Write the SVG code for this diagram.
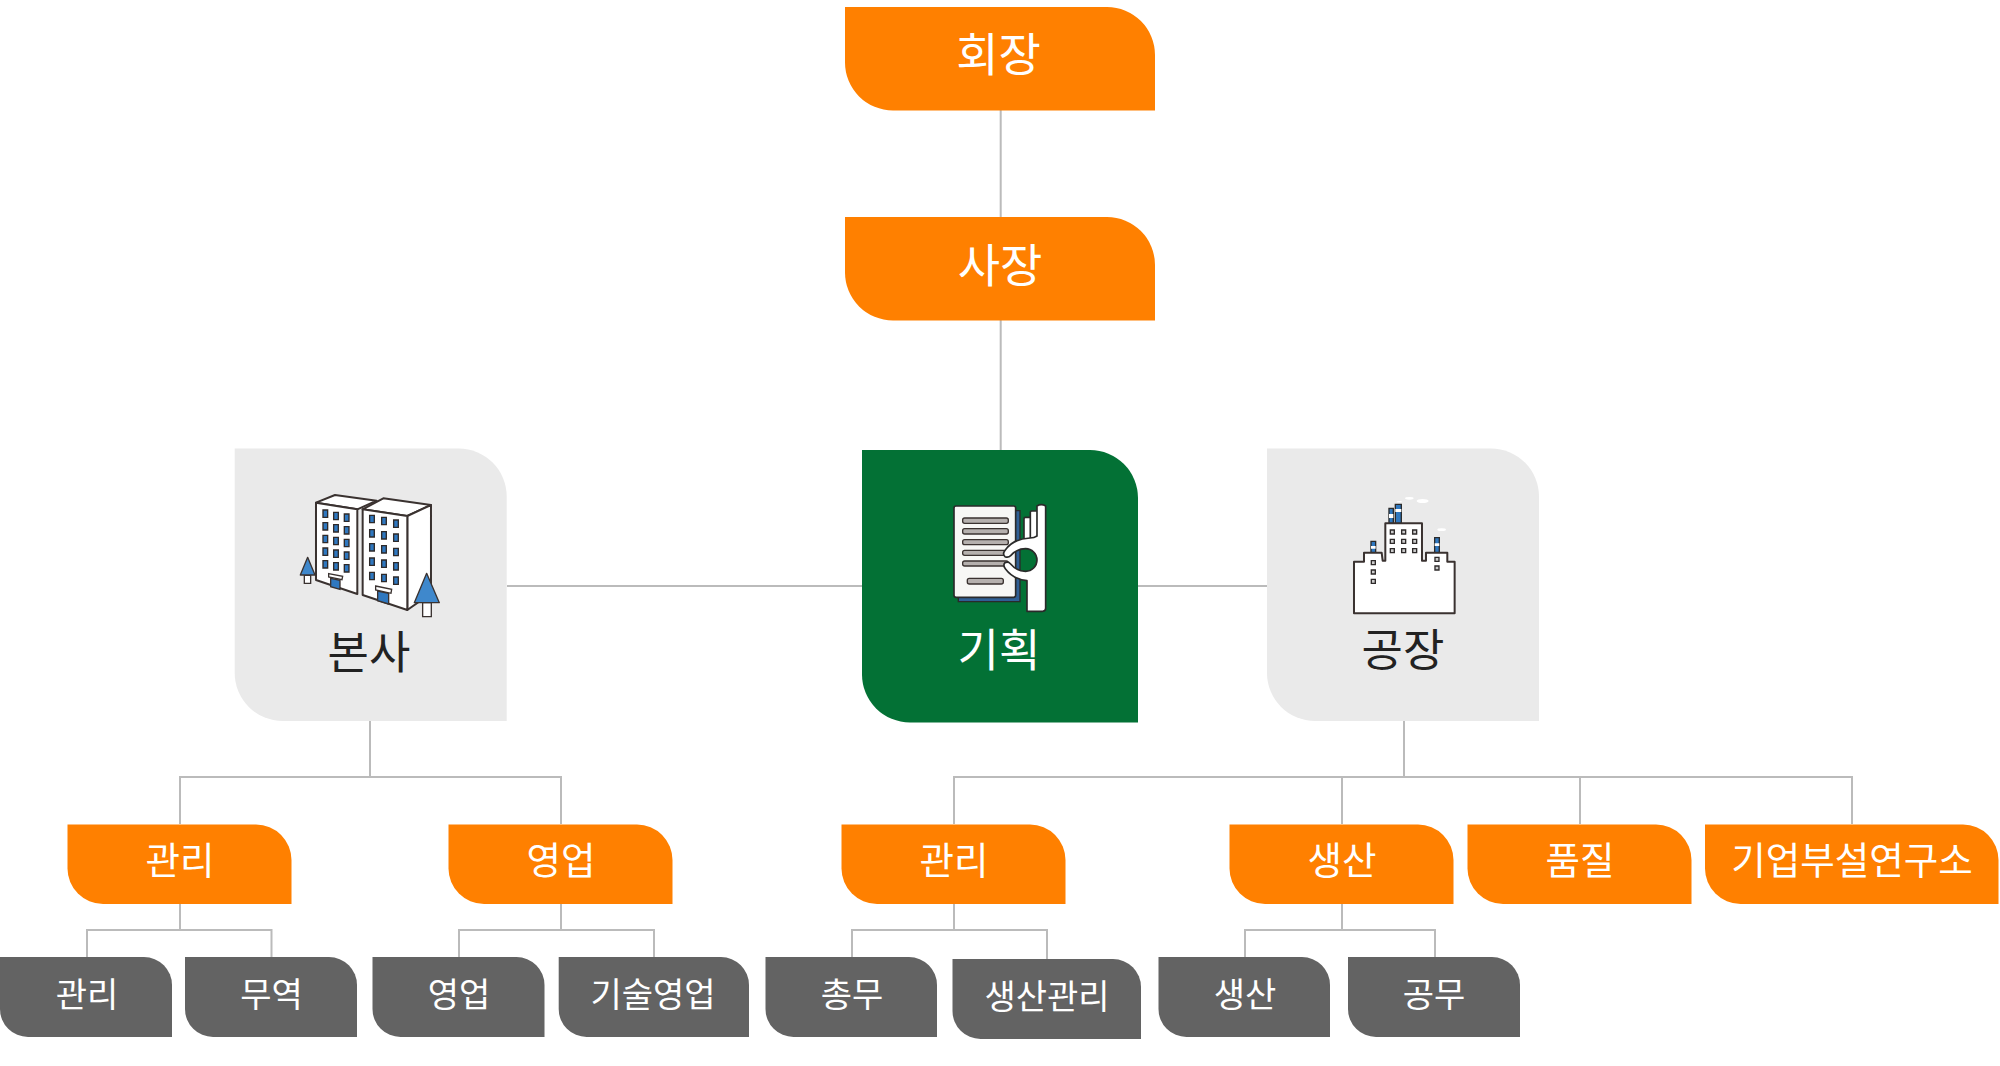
<svg xmlns="http://www.w3.org/2000/svg" width="2000" height="1066" viewBox="0 0 2000 1066">
<style>
text{font-family:"Noto Sans CJK KR","Noto Sans",sans-serif;text-anchor:middle}
.t1{font-size:46px;fill:#fff}
.t2{font-size:45px;fill:#222}
.t2w{font-size:45px;fill:#fff}
.t3{font-size:37.500px;fill:#fff}
.t4{font-size:34px;fill:#fff}
.o{fill:#ff8000}
.g{fill:#636363}
.l{fill:none;stroke:#bbb;stroke-width:2}
.k{stroke:#3a3230;stroke-width:6;stroke-linejoin:round}
.w{fill:#2f78c0;stroke:#2e2a2a;stroke-width:4}
.fw{fill:#ccc;stroke:#2e2a2a;stroke-width:4}
.bar{fill:#b5b0ae;stroke:#3a3230;stroke-width:4}
</style>
<defs>
<path id="win" class="w" d="M-7-11H7V11H-7Z"/>
<path id="fwin" class="fw" d="M-6-6H6V6H-6Z"/>
</defs>
<g id="connectors" class="l">
<path d="M1000.700 110V450"/>
<path d="M507 586H1267"/>
<path d="M370 721V777M180 824V777H561V824"/>
<path d="M1404 721V777M954 824V777H1852V824M1342 777V824M1580 777V824"/>
<path d="M180 903V930M87 957V930H271.500V957"/>
<path d="M561 903V930M459 957V930H654V957"/>
<path d="M954 903V930M852 957V930H1047V959"/>
<path d="M1342 903V930M1245 957V930H1435V957"/>
</g>
<g id="n-chairman"><path class="o" d="M845 7H1107A48 48 0 0 1 1155 55V110.500H893A48 48 0 0 1 845 62.500Z"/><text class="t1" x="998.500" y="71">회장</text></g>
<g id="n-president"><path class="o" d="M845 217H1107A48 48 0 0 1 1155 265V320.500H893A48 48 0 0 1 845 272.500Z"/><text class="t1" x="1000" y="282">사장</text></g>
<g id="n-hq">
<path fill="#eaeaea" d="M234.700 448.500H458.700A48 48 0 0 1 506.700 496.500V721H282.700A48 48 0 0 1 234.700 673Z"/>
<g transform="translate(220 430) scale(.3333)">
<path class="k" fill="#fff" d="M288 218L345 195L470 212L412 238Z"/>
<path class="k" fill="#fff" d="M288 218L412 238V492L288 450Z"/>
<path class="k" fill="#fff" d="M428 238L490 205L633 225L562 258Z"/>
<path class="k" fill="#fff" d="M562 258L633 225V490L562 540Z"/>
<path class="k" fill="#fff" d="M428 238L562 258V540L428 495Z"/>
<use href="#win" x="316" y="251"/><use href="#win" x="348" y="258"/><use href="#win" x="380" y="263"/>
<use href="#win" x="316" y="289"/><use href="#win" x="348" y="295"/><use href="#win" x="380" y="301"/>
<use href="#win" x="316" y="327"/><use href="#win" x="348" y="333"/><use href="#win" x="380" y="339"/>
<use href="#win" x="316" y="365"/><use href="#win" x="348" y="371"/><use href="#win" x="380" y="377"/>
<use href="#win" x="316" y="403"/><use href="#win" x="348" y="409"/><use href="#win" x="380" y="415"/>
<use href="#win" x="456" y="267"/><use href="#win" x="492" y="273"/><use href="#win" x="528" y="281"/>
<use href="#win" x="456" y="310"/><use href="#win" x="492" y="316"/><use href="#win" x="528" y="323"/>
<use href="#win" x="456" y="352"/><use href="#win" x="492" y="358"/><use href="#win" x="528" y="366"/>
<use href="#win" x="456" y="395"/><use href="#win" x="492" y="401"/><use href="#win" x="528" y="409"/>
<use href="#win" x="456" y="438"/><use href="#win" x="492" y="444"/><use href="#win" x="528" y="452"/>
<path fill="#2f78c0" stroke="#3a3230" stroke-width="4" d="M332 445L360 451V478L332 470Z"/>
<path fill="#fff" stroke="#3a3230" stroke-width="4" d="M326 431L368 439L366 449L326 441Z"/>
<path fill="#2f78c0" stroke="#3a3230" stroke-width="4" d="M473 483L506 490V522L473 512Z"/>
<path fill="#fff" stroke="#3a3230" stroke-width="4" d="M467 468L515 478L513 490L467 480Z"/>
<path fill="#fff" stroke="#3a3230" stroke-width="4" d="M253 436H272V460H253Z"/>
<path fill="#3f88cc" stroke="#3a3230" stroke-width="4" stroke-linejoin="round" d="M263 382L285 435H241Z"/>
<path fill="#fff" stroke="#3a3230" stroke-width="4" d="M608 518H634V560H608Z"/>
<path fill="#3f88cc" stroke="#3a3230" stroke-width="4" stroke-linejoin="round" d="M620 430L658 518H583Z"/>
</g>
<text class="t2" x="369" y="669">본사</text>
</g>
<g id="n-planning">
<path fill="#037135" d="M862 450H1090A48 48 0 0 1 1138 498V722.500H910A48 48 0 0 1 862 674.500Z"/>
<g transform="translate(850 440) scale(.3333)">
<path fill="#2f5f95" stroke="#2a2a2a" stroke-width="4" d="M325 212H510V485H325Z"/>
<rect fill="#f7f7f5" stroke="#2a2a2a" stroke-width="5" x="312" y="198" width="185" height="274" rx="6"/>
<rect class="bar" x="338" y="234" width="137" height="16" rx="6"/>
<rect class="bar" x="338" y="266" width="137" height="16" rx="6"/>
<rect class="bar" x="338" y="299" width="137" height="15" rx="6"/>
<rect class="bar" x="338" y="331" width="137" height="15" rx="6"/>
<rect class="bar" x="338" y="363" width="137" height="15" rx="6"/>
<rect class="bar" x="352" y="415" width="108" height="17" rx="6"/>
<g fill="#fff" stroke="#2a2a2a" stroke-width="5" stroke-linejoin="round">
<rect x="522" y="232" width="24" height="70" rx="4"/>
<rect x="541" y="213" width="24" height="90" rx="4"/>
<path d="M531 514V422Q490 418 466 386Q458 376 465 368Q475 364 482 372Q500 394 527 394A34 34 0 0 0 527 326Q500 326 482 347Q475 354 465 350Q456 342 466 330Q490 296 540 294Q553 294 561 288V198Q574 190 587 198V505Q587 514 578 514Z"/>
</g>
</g>
<text class="t2w" x="999" y="667">기획</text>
</g>
<g id="n-factory">
<path fill="#eaeaea" d="M1267 448.500H1491A48 48 0 0 1 1539 496.500V721H1315A48 48 0 0 1 1267 673Z"/>
<g transform="translate(1260 440) scale(.3333)">
<path fill="#2f78c0" stroke="#2a2a2a" stroke-width="4" d="M387 205H400V250H387ZM406 193H424V250H406ZM333 304H347V338H333ZM524 293H538V338H524Z"/>
<path fill="#fff" d="M387 222H400V234H387ZM406 207H424V216H406ZM333 318H347V326H333ZM524 310H538V318H524Z"/>
<path class="k" fill="#fff" d="M282 520V365H312V338H365L368 362H376V250H486V362H498V338H562V365H584V520Z"/>
<use href="#fwin" x="397" y="276"/><use href="#fwin" x="431" y="276"/><use href="#fwin" x="464" y="276"/>
<use href="#fwin" x="397" y="304"/><use href="#fwin" x="431" y="304"/><use href="#fwin" x="464" y="304"/>
<use href="#fwin" x="397" y="332"/><use href="#fwin" x="431" y="332"/><use href="#fwin" x="464" y="332"/>
<use href="#fwin" x="340" y="368"/><use href="#fwin" x="340" y="396"/><use href="#fwin" x="340" y="424"/>
<use href="#fwin" x="531" y="358"/><use href="#fwin" x="531" y="384"/>
<g fill="#fff"><ellipse cx="448" cy="175" rx="13" ry="4"/><ellipse cx="488" cy="183" rx="18" ry="6"/><ellipse cx="545" cy="269" rx="13" ry="4"/><ellipse cx="418" cy="185" rx="8" ry="2"/></g>
</g>
<text class="t2" x="1403" y="667">공장</text>
</g>
<g id="n-a1"><path class="o" d="M67.500 824.500H256A35.500 35.500 0 0 1 291.500 860V904H103A35.500 35.500 0 0 1 67.500 868.500Z"/><text class="t3" x="180" y="874">관리</text></g>
<g id="n-a2"><path class="o" d="M448.500 824.500H637A35.500 35.500 0 0 1 672.500 860V904H484A35.500 35.500 0 0 1 448.500 868.500Z"/><text class="t3" x="561" y="874">영업</text></g>
<g id="n-a3"><path class="o" d="M841.500 824.500H1030A35.500 35.500 0 0 1 1065.500 860V904H877A35.500 35.500 0 0 1 841.500 868.500Z"/><text class="t3" x="954" y="874">관리</text></g>
<g id="n-a4"><path class="o" d="M1229.500 824.500H1418A35.500 35.500 0 0 1 1453.500 860V904H1265A35.500 35.500 0 0 1 1229.500 868.500Z"/><text class="t3" x="1342" y="874">생산</text></g>
<g id="n-a5"><path class="o" d="M1467.500 824.500H1656A35.500 35.500 0 0 1 1691.500 860V904H1503A35.500 35.500 0 0 1 1467.500 868.500Z"/><text class="t3" x="1580" y="874">품질</text></g>
<g id="n-a6"><path class="o" d="M1705 824.500H1963A35.500 35.500 0 0 1 1998.500 860V904H1740.500A35.500 35.500 0 0 1 1705 868.500Z"/><text class="t3" x="1852" y="874">기업부설연구소</text></g>
<g id="n-b1"><path class="g" d="M0 957H144A28 28 0 0 1 172 985V1037H28A28 28 0 0 1 0 1009Z"/><text class="t4" x="87" y="1007">관리</text></g>
<g id="n-b2"><path class="g" d="M185 957H329A28 28 0 0 1 357 985V1037H213A28 28 0 0 1 185 1009Z"/><text class="t4" x="271.500" y="1007">무역</text></g>
<g id="n-b3"><path class="g" d="M372.500 957H516.500A28 28 0 0 1 544.500 985V1037H400.500A28 28 0 0 1 372.500 1009Z"/><text class="t4" x="459" y="1007">영업</text></g>
<g id="n-b4"><path class="g" d="M558.700 957H721A28 28 0 0 1 749 985V1037H586.700A28 28 0 0 1 558.700 1009Z"/><text class="t4" x="653" y="1007">기술영업</text></g>
<g id="n-b5"><path class="g" d="M765.500 957H909A28 28 0 0 1 937 985V1037H793.500A28 28 0 0 1 765.500 1009Z"/><text class="t4" x="852" y="1007">총무</text></g>
<g id="n-b6"><path class="g" d="M952.500 959H1113A28 28 0 0 1 1141 987V1039H980.500A28 28 0 0 1 952.500 1011Z"/><text class="t4" x="1047" y="1009">생산관리</text></g>
<g id="n-b7"><path class="g" d="M1158.500 957H1302A28 28 0 0 1 1330 985V1037H1186.500A28 28 0 0 1 1158.500 1009Z"/><text class="t4" x="1245" y="1007">생산</text></g>
<g id="n-b8"><path class="g" d="M1348 957H1492A28 28 0 0 1 1520 985V1037H1376A28 28 0 0 1 1348 1009Z"/><text class="t4" x="1434" y="1007">공무</text></g>
</svg>
